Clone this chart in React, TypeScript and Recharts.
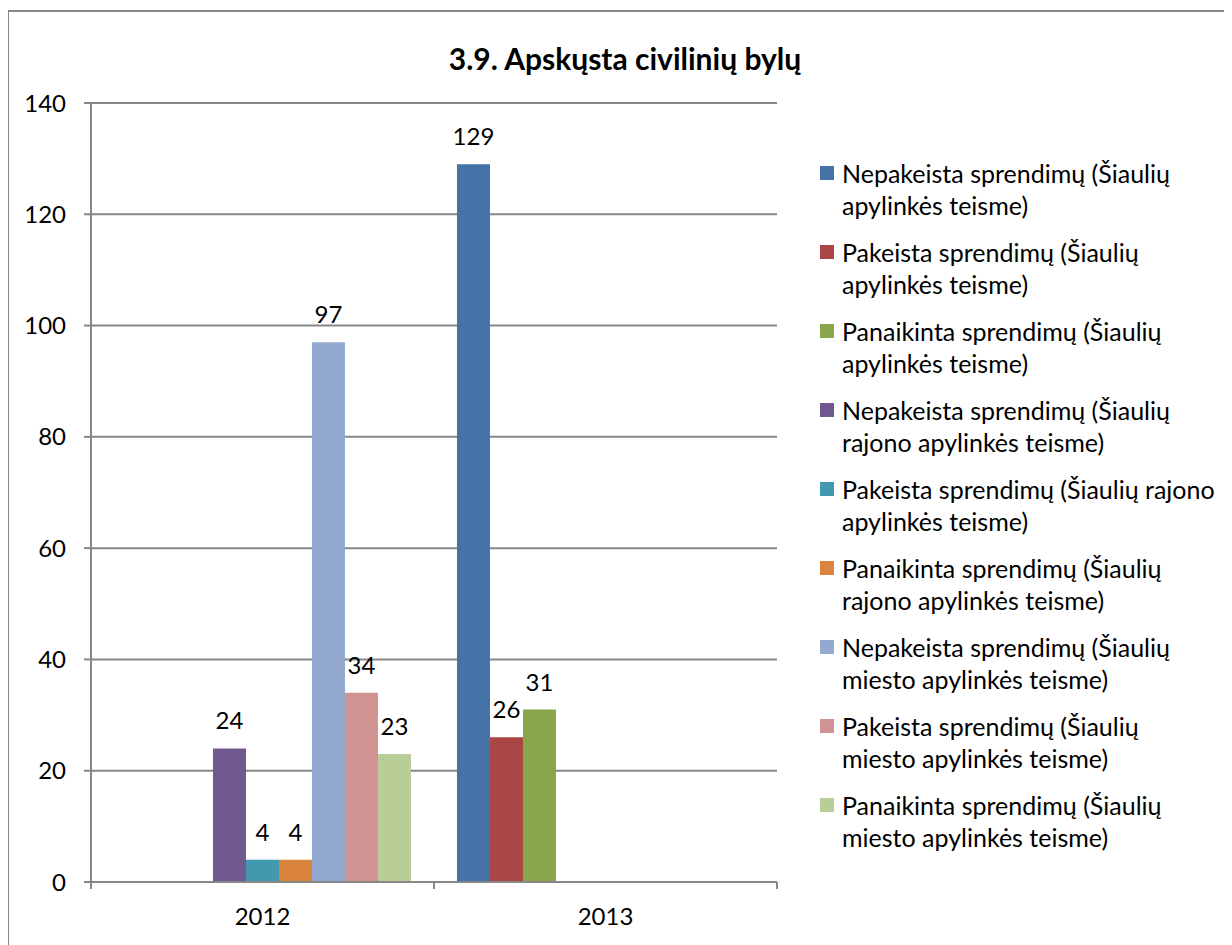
import React from 'react';
import { BarChart, Bar, XAxis, YAxis, CartesianGrid, Legend, LabelList } from 'recharts';

const categories = ['2012', '2013'];
const seriesNames = [
  'Nepakeista sprendimų (Šiaulių\napylinkės teisme)',
  'Pakeista sprendimų (Šiaulių\napylinkės teisme)',
  'Panaikinta sprendimų (Šiaulių\napylinkės teisme)',
  'Nepakeista sprendimų (Šiaulių\nrajono apylinkės teisme)',
  'Pakeista sprendimų (Šiaulių rajono\napylinkės teisme)',
  'Panaikinta sprendimų (Šiaulių\nrajono apylinkės teisme)',
  'Nepakeista sprendimų (Šiaulių\nmiesto apylinkės teisme)',
  'Pakeista sprendimų (Šiaulių\nmiesto apylinkės teisme)',
  'Panaikinta sprendimų (Šiaulių\nmiesto apylinkės teisme)',
];
const s1 = [null, 129];
const s2 = [null, 26];
const s3 = [null, 31];
const s4 = [24, null];
const s5 = [4, null];
const s6 = [4, null];
const s7 = [97, null];
const s8 = [34, null];
const s9 = [23, null];
const seriesValues = [s1, s2, s3, s4, s5, s6, s7, s8, s9];
const colors = ['#4572A7', '#AA4643', '#89A54E', '#71588F', '#4198AF', '#DB843D', '#93A9CF', '#D19392', '#B9CD96'];
const yTicks = [0, 20, 40, 60, 80, 100, 120, 140];

const data = categories.map((c, i) => {
  const row: any = { name: c };
  seriesValues.forEach((s, k) => {
    row['s' + k] = s[i];
  });
  return row;
});

const FONT = 'Lato, "Open Sans", sans-serif';
const GRID = '#878787';
const FS = 24;

const CHART_W = 1224;
const CHART_H = 937;
const MARGIN = { top: 95, right: 455, bottom: 0, left: 0 };
const PLOT_W = CHART_W - MARGIN.left - MARGIN.right - 83;
const HALF_BAND = PLOT_W / categories.length / 2;

const XTick = (props: any) => {
  const { x, y, payload, index } = props;
  return (
    <g>
      <line x1={x - HALF_BAND} x2={x - HALF_BAND} y1={y} y2={y + 7} stroke={GRID} strokeWidth={2} />
      {index === categories.length - 1 && (
        <line x1={x + HALF_BAND} x2={x + HALF_BAND} y1={y} y2={y + 7} stroke={GRID} strokeWidth={2} />
      )}
      <text x={x} y={y + 43} textAnchor="middle" fontSize={FS} fill="#000" fontFamily={FONT}>
        {payload.value}
      </text>
    </g>
  );
};

const LegendContent = () => (
  <div style={{ fontFamily: FONT, fontSize: 25, color: '#000', lineHeight: '32px' }}>
    {seriesNames.map((n, i) => (
      <div key={i} style={{ display: 'flex', alignItems: 'flex-start', marginBottom: 15 }}>
        <div style={{ width: 14, height: 14, background: colors[i], marginTop: 9, marginRight: 8, flex: 'none' }} />
        <div style={{ whiteSpace: 'pre-line' }}>{n}</div>
      </div>
    ))}
  </div>
);

export default function App() {
  return (
    <div style={{ position: 'relative', width: CHART_W, height: CHART_H, overflow: 'hidden', background: '#fff' }}>
      <div
        style={{
          position: 'absolute',
          left: -1,
          top: 2,
          width: 1400,
          height: 1200,
          border: '2px solid #878787',
          boxSizing: 'border-box',
        }}
      />
      <div
        style={{
          position: 'absolute',
          left: 0,
          width: 1234,
          top: 31,
          textAlign: 'center',
          fontFamily: FONT,
          fontWeight: 'bold',
          fontSize: 30,
          lineHeight: '38px',
          color: '#000',
        }}
      >
        3.9. Apskųsta civilinių bylų
      </div>
      <BarChart
        width={CHART_W}
        height={CHART_H}
        data={data}
        margin={MARGIN}
        barCategoryGap="6.7%"
        barGap={0}
        style={{ position: 'absolute', left: 0, top: 0 }}
      >
        <CartesianGrid vertical={false} stroke={GRID} strokeWidth={2} />
        <XAxis
          dataKey="name"
          height={63}
          axisLine={{ stroke: GRID, strokeWidth: 2 }}
          tickLine={false}
          tickSize={0}
          tickMargin={0}
          tick={<XTick />}
          interval={0}
        />
        <YAxis
          width={83}
          domain={[0, 140]}
          ticks={yTicks}
          axisLine={{ stroke: GRID, strokeWidth: 2 }}
          tickLine={{ stroke: GRID, strokeWidth: 2 }}
          tickSize={7}
          tickMargin={18}
          tick={{ fontSize: FS, fill: '#000', fontFamily: FONT }}
        />
        <Legend
          layout="vertical"
          align="center"
          verticalAlign="middle"
          content={<LegendContent />}
          wrapperStyle={{ position: 'absolute', left: 812, top: 149, width: 412, height: 'auto' }}
        />
        {seriesNames.map((n, i) => (
          <Bar key={i} dataKey={'s' + i} name={n} fill={colors[i]} isAnimationActive={false}>
            <LabelList dataKey={'s' + i} position="top" offset={19} fontSize={FS} fill="#000" fontFamily={FONT} />
          </Bar>
        ))}
      </BarChart>
    </div>
  );
}
